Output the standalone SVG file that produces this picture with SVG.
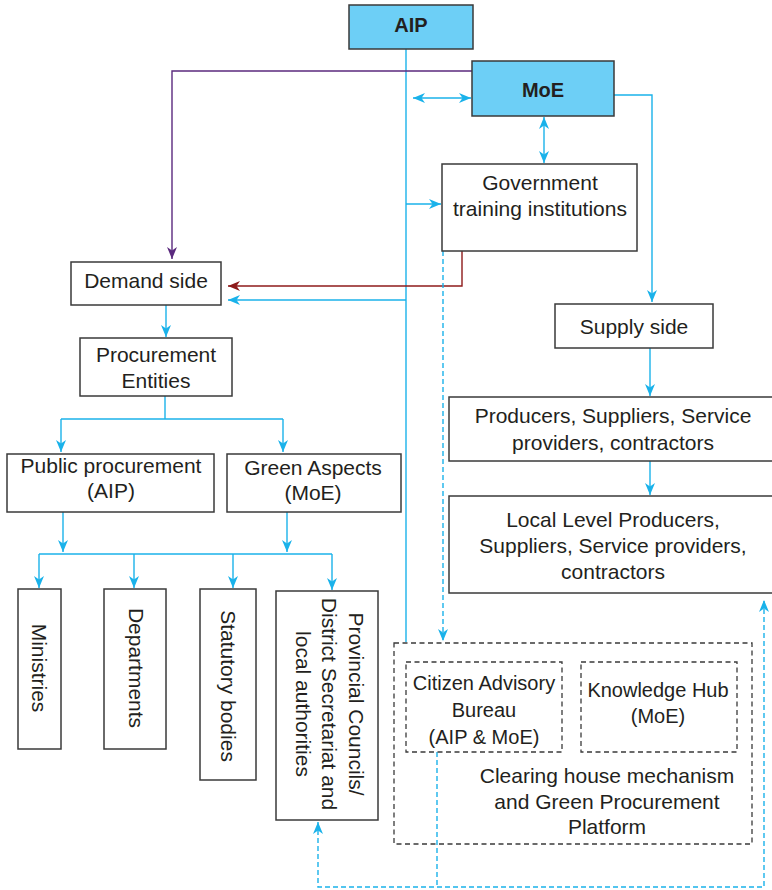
<svg xmlns="http://www.w3.org/2000/svg" width="772" height="890" viewBox="0 0 772 890">
<style>
  .box { fill: #ffffff; stroke: #3a3a3a; stroke-width: 1.5; }
  .hl { fill: #6dcff6; stroke: #3a3a3a; stroke-width: 1.5; }
  .dbox { fill: none; stroke: #3a3a3a; stroke-width: 1.3; stroke-dasharray: 5 3.5; }
  text { font-family: "Liberation Sans", Arial, sans-serif; font-size: 21px; fill: #231f20; text-anchor: middle; }
  .b { font-weight: bold; font-size: 20px; }
  .s { font-size: 20px; }
  .c { fill: none; stroke: #1ab2ea; stroke-width: 1.4; }
  .cd { fill: none; stroke: #1ab2ea; stroke-width: 1.4; stroke-dasharray: 5 3; }
  .p { fill: none; stroke: #5b2a7e; stroke-width: 1.4; }
  .r { fill: none; stroke: #8e1b1b; stroke-width: 1.4; }
  .ac { marker-end: url(#mc); }
  .ad { marker-start: url(#mc); marker-end: url(#mc); }
</style>
<defs>
  <marker id="mc" viewBox="0 0 12 10" refX="12" refY="5" markerWidth="12" markerHeight="10" markerUnits="userSpaceOnUse" orient="auto-start-reverse">
    <path d="M0,0 L12,5 L0,10 L3.5,5 z" fill="#1ab2ea"/>
  </marker>
  <marker id="mp" viewBox="0 0 12 10" refX="12" refY="5" markerWidth="12" markerHeight="10" markerUnits="userSpaceOnUse" orient="auto">
    <path d="M0,0 L12,5 L0,10 L3.5,5 z" fill="#5b2a7e"/>
  </marker>
  <marker id="mr" viewBox="0 0 12 10" refX="12" refY="5" markerWidth="12" markerHeight="10" markerUnits="userSpaceOnUse" orient="auto">
    <path d="M0,0 L12,5 L0,10 L3.5,5 z" fill="#8e1b1b"/>
  </marker>
</defs>

<g id="connectors">
  <path class="c" d="M406,49 V642"/>
  <path class="c ad" d="M413,98 H471"/>
  <path class="p" d="M472,71 H172 V259" marker-end="url(#mp)"/>
  <path class="c ac" d="M614,95 H652 V302"/>
  <path class="c ad" d="M544,117 V163"/>
  <path class="c ac" d="M406,204 H441"/>
  <path class="r" d="M462,251 V286 H228" marker-end="url(#mr)"/>
  <path class="c ac" d="M406,300 H228"/>
  <path class="c ac" d="M166,305 V337"/>
  <path class="c" d="M165,396 V419"/>
  <path class="c" d="M61,419 H283"/>
  <path class="c ac" d="M61,419 V452"/>
  <path class="c ac" d="M283,419 V452"/>
  <path class="c ac" d="M63,512 V552"/>
  <path class="c ac" d="M287,512 V552"/>
  <path class="c" d="M39,554 H332"/>
  <path class="c ac" d="M39,554 V588"/>
  <path class="c ac" d="M134,554 V588"/>
  <path class="c ac" d="M233,554 V588"/>
  <path class="c ac" d="M332,554 V590"/>
  <path class="c ac" d="M650,348 V396"/>
  <path class="c ac" d="M650,461 V495"/>
  <path class="cd ac" d="M443,251 V641"/>
  <path class="cd" d="M437,752 V887"/>
  <path class="cd ad" d="M318,822 V887 H764 V600"/>
</g>

<g id="aip"><rect class="hl" x="349" y="5" width="124" height="44"/><text class="b" x="411" y="32">AIP</text></g>
<g id="moe"><rect class="hl" x="472" y="61" width="142" height="55"/><text class="b" x="543" y="97">MoE</text></g>
<g id="gov"><rect class="box" x="442" y="164" width="195" height="87"/><text x="540" y="190">Government</text><text x="540" y="216">training institutions</text></g>
<g id="demand"><rect class="box" x="71" y="262" width="150" height="43"/><text x="146" y="288">Demand side</text></g>
<g id="supply"><rect class="box" x="555" y="304" width="158" height="44"/><text x="634" y="334">Supply side</text></g>
<g id="procurement"><rect class="box" x="80" y="338" width="152" height="58"/><text x="156" y="362">Procurement</text><text x="156" y="388">Entities</text></g>
<g id="public"><rect class="box" x="7" y="454" width="207" height="58"/><text x="111" y="473">Public procurement</text><text x="111" y="498">(AIP)</text></g>
<g id="green"><rect class="box" x="227" y="454" width="174" height="58"/><text x="313" y="475">Green Aspects</text><text x="313" y="500">(MoE)</text></g>
<g id="producers"><rect class="box" x="449" y="397" width="325" height="64"/><text x="613" y="423">Producers, Suppliers, Service</text><text x="613" y="450">providers, contractors</text></g>
<g id="local"><rect class="box" x="449" y="496" width="325" height="97"/><text x="613" y="527">Local Level Producers,</text><text x="613" y="553">Suppliers, Service providers,</text><text x="613" y="579">contractors</text></g>
<g id="ministries"><rect class="box" x="18" y="589" width="43" height="160"/><text transform="translate(39,668) rotate(90)" dy="0.35em">Ministries</text></g>
<g id="departments"><rect class="box" x="104" y="589" width="62" height="160"/><text transform="translate(136,668) rotate(90)" dy="0.35em">Departments</text></g>
<g id="statutory"><rect class="box" x="200" y="589" width="56" height="191"/><text transform="translate(228,686) rotate(90)" dy="0.35em">Statutory bodies</text></g>
<g id="provincial"><rect class="box" x="276" y="591" width="102" height="229"/>
  <text transform="translate(356,704) rotate(90)" dy="0.35em">Provincial Councils/</text>
  <text transform="translate(329.5,704) rotate(90)" dy="0.35em">District Secretariat and</text>
  <text transform="translate(303,704) rotate(90)" dy="0.35em">local authorities</text>
</g>
<g id="clearing"><rect class="dbox" x="394" y="643" width="358" height="201"/><text x="607" y="783">Clearing house mechanism</text><text x="607" y="809">and Green Procurement</text><text x="607" y="834">Platform</text></g>
<g id="citizen"><rect class="dbox" x="406" y="662" width="156" height="90"/><text class="s" x="484" y="690">Citizen Advisory</text><text class="s" x="484" y="717">Bureau</text><text class="s" x="484" y="744">(AIP &amp; MoE)</text></g>
<g id="knowledge"><rect class="dbox" x="581" y="662" width="156" height="90"/><text class="s" x="658" y="697">Knowledge Hub</text><text class="s" x="658" y="723">(MoE)</text></g>
</svg>
